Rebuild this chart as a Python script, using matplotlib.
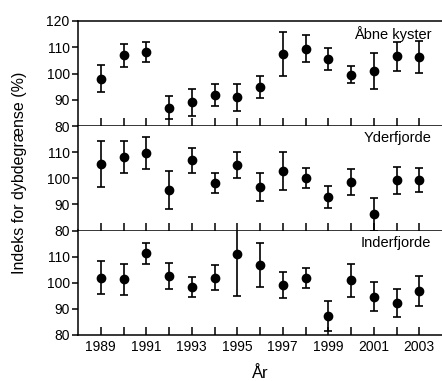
import matplotlib
matplotlib.use("Agg")
import matplotlib.pyplot as plt
import numpy as np

plt.rcParams['font.family'] = ['Liberation Sans', 'DejaVu Sans']
plt.rcParams['font.size'] = 10

years = list(range(1989, 2004))
tick_years = [1989, 1991, 1993, 1995, 1997, 1999, 2001, 2003]

# Åbne kyster
aabne = [98.0, 106.9, 108.2, 87.0, 89.0, 91.8, 90.9, 95.0, 107.6, 109.4, 105.6, 99.5, 101.0, 106.5, 106.3]
aabne_err = [5.2, 4.4, 3.7, 4.4, 5.0, 4.3, 5.1, 4.2, 8.4, 5.1, 4.2, 3.3, 7.0, 5.6, 6.2]

# Yderfjorde
yder = [105.4, 108.1, 109.6, 95.5, 106.9, 98.2, 105.0, 96.7, 102.8, 100.2, 92.8, 98.5, 86.2, 99.2, 99.3]
yder_err = [8.7, 6.1, 6.2, 7.3, 4.8, 3.9, 5.0, 5.5, 7.3, 3.9, 4.2, 4.9, 6.3, 5.1, 4.5]

# Inderfjorde
inder = [101.9, 101.3, 111.2, 102.5, 98.3, 102.0, 110.9, 106.9, 99.1, 101.8, 87.2, 100.9, 94.7, 92.2, 96.8]
inder_err = [6.3, 5.8, 4.0, 4.9, 3.9, 4.9, 16.1, 8.5, 5.1, 4.0, 5.7, 6.3, 5.7, 5.5, 5.7]

panels = [("Åbne kyster", aabne, aabne_err),
          ("Yderfjorde", yder, yder_err),
          ("Inderfjorde", inder, inder_err)]

fig = plt.figure(figsize=(4.42, 3.81), dpi=100)
W, H = 442, 381
left = 78 / W
width = 1.0 - left
edges = [21, 126, 230.5, 335]

axes = []
for i, (name, vals, errs) in enumerate(panels):
    top = 1 - edges[i] / H
    bot = 1 - edges[i + 1] / H
    ax = fig.add_axes([left, bot, width, top - bot])
    axes.append(ax)
    ax.errorbar(years, vals, yerr=errs, fmt='o', color='black', ms=6,
                elinewidth=1.2, capsize=3, capthick=1.2)
    ax.set_xlim(1988, 2004)
    ax.set_ylim(80, 120)
    ax.spines['right'].set_visible(False)
    if i > 0:
        ax.spines['top'].set_visible(False)
        ax.set_yticks([80, 90, 100, 110])
    else:
        ax.set_yticks([80, 90, 100, 110, 120])
    for s in ax.spines.values():
        s.set_linewidth(1.1)
    ax.set_xticks(years)
    ax.tick_params(axis='x', direction='in', length=6, width=1.1)
    ax.tick_params(axis='y', direction='out', length=4, width=1.1, labelsize=10, pad=2)
    if i < 2:
        ax.set_xticklabels([])
    else:
        ax.set_xticklabels([str(y) if y in tick_years else '' for y in years], fontsize=10)
    ax.text(0.97, 0.95, name, transform=ax.transAxes, ha='right', va='top', fontsize=10.5)

axes[2].set_xlabel('År', fontsize=12, labelpad=9)
fig.text(20 / W, 1 - 173 / H, 'Indeks for dybdegrænse (%)', rotation=90,
         ha='center', va='center', fontsize=11.5)

fig.savefig('out.png', dpi=100)
